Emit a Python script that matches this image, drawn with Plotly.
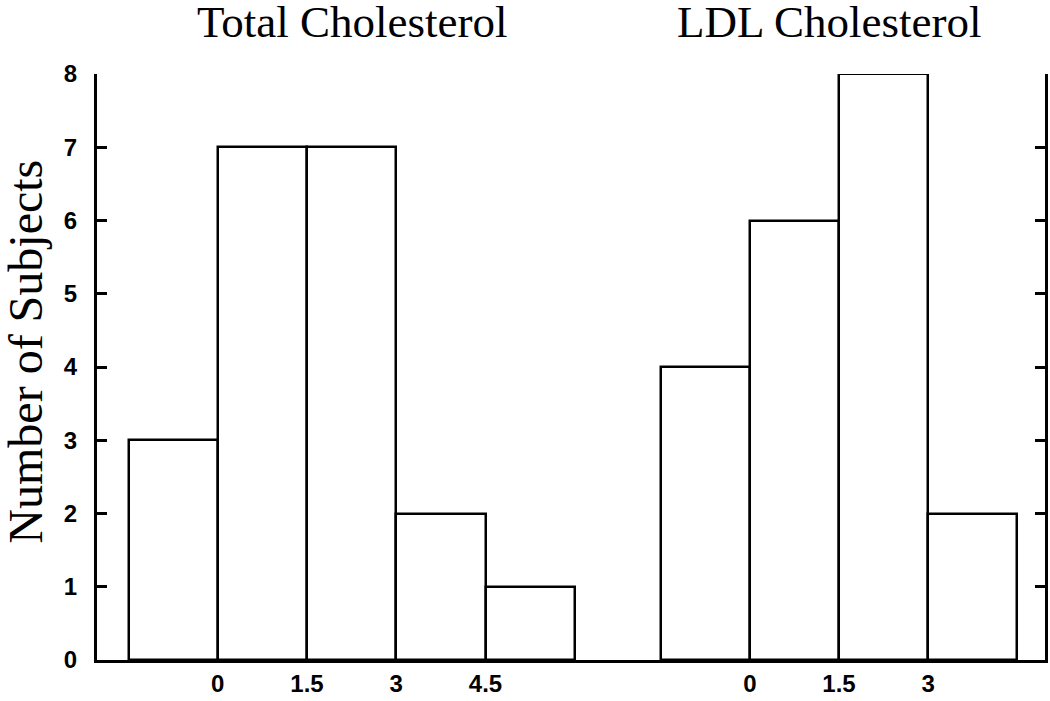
import plotly.graph_objects as go

# Data
total_edges = [-1.5, 0, 1.5, 3, 4.5]
total_counts = [3, 7, 7, 2, 1]
ldl_edges = [-1.5, 0, 1.5, 3]
ldl_counts = [4, 6, 8, 2]
bin_width = 1.5
total_ticks = [0, 1.5, 3, 4.5]
total_ticktext = ["0", "1.5", "3", "4.5"]
ldl_ticks = [0, 1.5, 3]
ldl_ticktext = ["0", "1.5", "3"]
y_ticks = [0, 1, 2, 3, 4, 5, 6, 7, 8]

bar_style = dict(marker=dict(color="white", line=dict(color="black", width=2.5)),
                 width=bin_width, showlegend=False, hoverinfo="skip")

fig = go.Figure()
fig.add_trace(go.Bar(x=[e + bin_width / 2 for e in total_edges], y=total_counts,
                     xaxis="x", yaxis="y", cliponaxis=False, **bar_style))
fig.add_trace(go.Bar(x=[e + bin_width / 2 for e in ldl_edges], y=ldl_counts,
                     xaxis="x2", yaxis="y2", cliponaxis=False, **bar_style))

tickfont = dict(family="Liberation Sans", size=24, color="black", weight="bold")
split = 0.5517

fig.update_layout(
    width=1050, height=701,
    margin=dict(l=97, r=5, t=74, b=41),
    paper_bgcolor="white", plot_bgcolor="white",
    bargap=0,
    xaxis=dict(domain=[0, split], range=[-2.03, 6.76], showline=True, linecolor="black",
               linewidth=3, ticks="", tickvals=total_ticks, ticktext=total_ticktext,
               tickfont=tickfont, showgrid=False, zeroline=False, ticklabelstandoff=0,
               automargin=False),
    xaxis2=dict(domain=[split, 1], range=[-2.19, 4.97], showline=True, linecolor="black",
                linewidth=3, ticks="", tickvals=ldl_ticks, ticktext=ldl_ticktext,
                tickfont=tickfont, showgrid=False, zeroline=False, anchor="y2",
                ticklabelstandoff=0, automargin=False),
    yaxis=dict(range=[0, 8], tickvals=y_ticks, showline=True, linecolor="black",
               linewidth=3, ticks="inside", ticklen=10, tickwidth=3, tickcolor="black",
               tickfont=tickfont, showgrid=False, zeroline=False, anchor="x",
               ticklabelstandoff=12, automargin=False),
    yaxis2=dict(range=[0, 8], tickvals=y_ticks, showline=True, linecolor="black",
                linewidth=3, ticks="inside", ticklen=10, tickwidth=3, tickcolor="black",
                showticklabels=False, showgrid=False, zeroline=False, anchor="x2",
                side="right", automargin=False),
)

title_font = dict(family="Liberation Serif", size=45, color="black")
fig.add_annotation(text="Total Cholesterol", xref="paper", yref="paper", x=0.27, y=1.089,
                   showarrow=False, font=title_font, xanchor="center", yanchor="middle")
fig.add_annotation(text="LDL Cholesterol", xref="paper", yref="paper", x=0.773, y=1.089,
                   showarrow=False, font=title_font, xanchor="center", yanchor="middle")
fig.add_annotation(text="Number of Subjects", xref="paper", yref="paper", x=-0.075, y=0.526,
                   showarrow=False, font=dict(family="Liberation Serif", size=48, color="black"),
                   textangle=-90, xanchor="center", yanchor="middle")

# remove the browser's default 8px body margin so the figure fills the window
fig.write_html("out.html", config={"displayModeBar": False},
               post_script="document.body.style.margin='0';")
